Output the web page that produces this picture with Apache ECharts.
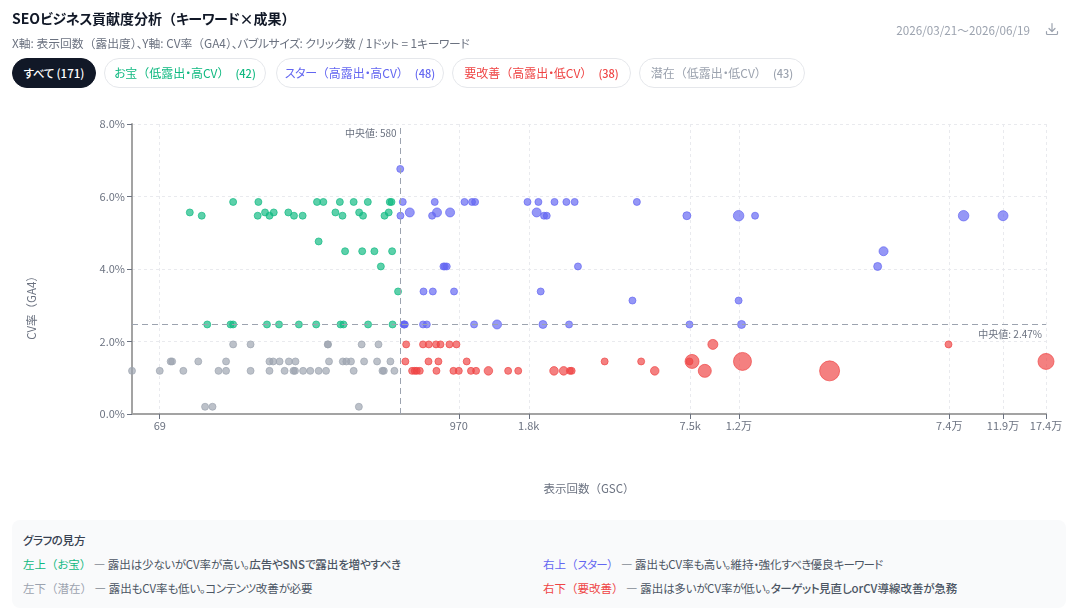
<!doctype html>
<html lang="ja"><head><meta charset="utf-8">
<script src="https://cdn.jsdelivr.net/npm/echarts@6/dist/echarts.min.js"></script>
<style>
html,body{margin:0;padding:0;background:#fff;width:1079px;height:613px;overflow:hidden;font-family:"Noto Sans CJK JP",sans-serif}
#chart{position:absolute;left:0;top:0;width:1079px;height:613px}
.abs{position:absolute;white-space:nowrap}
h1{margin:0;left:12px;top:8px;font-size:14px;line-height:20px;font-weight:700;color:#111827}
.sub{left:12px;top:35px;font-size:11.8px;line-height:15px;color:#6b7280}
.period{right:49px;top:22px;font-size:11.7px;line-height:15px;color:#9ca3af}
.dl{left:1045px;top:22px}
.chip{top:58px;height:30px;box-sizing:border-box;border:1px solid #e5e7eb;border-radius:15px;background:#fff;font-size:12px;line-height:28px;text-align:center}
.chip b{font-weight:500;margin-left:6px;font-size:11px}
.panel{left:12px;top:520px;width:1054px;height:88px;background:#f9fafb;border-radius:8px}
.panel .t{position:absolute;left:11px;top:13px;font-size:11.5px;line-height:15px;font-weight:500;color:#374151}
.panel .l{position:absolute;font-size:11.5px;line-height:15px;color:#4b5563;white-space:nowrap}
.panel .s{font-weight:500;color:#4b5563}
.kana{font-feature-settings:"palt";letter-spacing:-.4px}
.panel .tight .kana{letter-spacing:-.75px}
</style></head>
<body>
<div id="chart"></div>
<h1 class="abs jp">SEOビジネス貢献度分析（キーワード×成果）</h1>
<div class="abs sub jp">X軸: 表示回数（露出度）、Y軸: CV率（GA4）、バブルサイズ: クリック数 / 1ドット = 1キーワード</div>
<div class="abs period">2026/03/21〜2026/06/19</div>
<svg class="abs dl" width="14" height="14" viewBox="0 0 14 14" fill="none" stroke="#9ca3af" stroke-width="1.2" stroke-linecap="round" stroke-linejoin="round"><path d="M7 1.5v7.5M4 6.5l3 3 3-3M1.5 9.5v2a1 1 0 0 0 1 1h9a1 1 0 0 0 1-1v-2"/></svg>
<div class="abs chip jp" style="left:12px;width:84px;background:#111827;border-color:#111827;color:#fff;font-weight:500;font-size:11.5px">すべて (171)</div>
<div class="abs chip jp" style="left:104px;width:162px;color:#10b981">お宝（低露出・高CV）<b>(42)</b></div>
<div class="abs chip jp" style="left:276px;width:168px;color:#6366f1">スター（高露出・高CV）<b>(48)</b></div>
<div class="abs chip jp" style="left:452px;width:179px;color:#ef4444">要改善（高露出・低CV）<b>(38)</b></div>
<div class="abs chip jp" style="left:639px;width:166px;color:#9ca3af">潜在（低露出・低CV）<b>(43)</b></div>
<div class="abs panel">
  <div class="t jp">グラフの見方</div>
  <div class="l jp" style="left:11px;top:37px"><span style="color:#10b981">左上（お宝）</span> — 露出は少ないがCV率が高い。<span class="s">広告やSNSで露出を増やすべき</span></div>
  <div class="l jp tight" style="left:531px;top:37px"><span style="color:#6366f1">右上（スター）</span> — 露出もCV率も高い。維持・強化すべき優良キーワード</div>
  <div class="l jp" style="left:11px;top:61px"><span style="color:#9ca3af">左下（潜在）</span> — 露出もCV率も低い。コンテンツ改善が必要</div>
  <div class="l jp" style="left:531px;top:61px"><span style="color:#ef4444">右下（要改善）</span> — 露出は多いがCV率が低い。<span class="s">ターゲット見直しorCV導線改善が急務</span></div>
</div>
<script>
// Keywords per quadrant, grouped by CV rate (%). Each entry is impressions, or [impressions, clicks].
const hiddenGems = [
  [5.85, [132,165,277,293,339,383,434,527,535]],
  [5.56, [90,175,189,215,326,402,522]],
  [5.47, [100,164,182,226,244,347,416,503]],
  [4.76, [281]],
  [4.49, [355,413,460,538]],
  [4.07, [487]],
  [3.38, [567]],
  [2.47, [105,129,132,178,198,236,275,341,350,435,540]]
];
const stars = [
  [6.76, [578]],
  [5.85, [591,784,1020,1090,1120,1780,1960,2260,2510,2700,4680]],
  [5.56, [[629,39],[800,39],[898,39],[1930,39]]],
  [5.47, [579,766,2060,2110,[7280,25],[11500,66],13300,[84000,66],[119000,56]]],
  [4.49, [[41400,39]]],
  [4.07, [847,857,872,2780,[39300,25]]],
  [3.38, [710,771,930,2000]],
  [3.13, [4500,11500]],
  [2.47, [595,599,602,707,731,1110,[1360,39],[2040,25],2570,7450,[11800,25]]]
];
const toImprove = [
  [1.92, [609,707,744,793,825,893,950,[9160,56],73500]],
  [1.45, [605,742,810,1040,3520,4860,7450,[7620,156],[11900,306],[174000,225]]],
  [1.19, [642,657,669,687,796,925,970,1080,1130,[1260,32],1500,1640,[2250,32],[2450,32],2590,2630,[5480,32],[8530,127],[25700,400]]]
];
const potential = [
  [1.92, [132,154,305,305,411,477]],
  [1.45, [76,77,97,124,182,188,199,216,229,308,348,359,374,420,471,530]],
  [1.19, [54,69,85,116,124,154,182,208,225,228,245,261,281,300,383,494,500,549]],
  [0.2, [103,110,401]]
];
const xTicks = [69,970,1800,7500,11520,74000,119000,174000];
const xTickLabels = ['69','970','1.8k','7.5k','1.2万','7.4万','11.9万','17.4万'];
const medianImpressions = 580;
const medianCvr = 2.47;
const baseClicks = 9;

// Set kana and small punctuation proportionally; kanji and brackets stay full width.
const KANA = /[\u3041-\u30ff\u3001\u3002\u30fb]+/g;
document.querySelectorAll('.jp').forEach(el => {
  const walker = document.createTreeWalker(el, NodeFilter.SHOW_TEXT);
  const nodes = [];
  while (walker.nextNode()) nodes.push(walker.currentNode);
  nodes.forEach(n => {
    if (!KANA.test(n.nodeValue)) return;
    KANA.lastIndex = 0;
    const box = document.createElement('span');
    box.innerHTML = n.nodeValue.replace(KANA, m => '<span class="kana">' + m + '</span>');
    n.replaceWith(...box.childNodes);
  });
});

const FONT = '"Noto Sans CJK JP", sans-serif';
const expand = rows => rows.flatMap(([rate, list]) =>
  list.map(e => Array.isArray(e) ? [e[0], rate, e[1]] : [e, rate, baseClicks]));
const bubble = (name, rows, color, extra) => Object.assign({
  name, type: 'scatter', data: expand(rows),
  symbolSize: d => Math.max(7, 4 + 0.8 * Math.sqrt(d[2])),
  itemStyle: { color, opacity: 0.68, borderColor: color, borderWidth: 1 },
  emphasis: { disabled: true }, animation: false, silent: true
}, extra);

const chart = echarts.init(document.getElementById('chart'), null, { renderer: 'canvas' });
const medianLine = { color: '#9ca3af', type: [6, 4], width: 1 };
const medianLabel = { color: '#6b7280', fontSize: 10, fontFamily: FONT };
const gridLine = { color: '#e9eaee', type: [3, 3] };
chart.setOption({
  animation: false,
  textStyle: { fontFamily: FONT },
  grid: { left: 132, top: 124, width: 914, height: 290 },
  xAxis: {
    type: 'log', logBase: 10, min: 54, max: 174000,
    name: '表示回数（GSC）', nameLocation: 'middle', nameGap: 69,
    nameTextStyle: { color: '#6b7280', fontSize: 11.5, fontFamily: FONT },
    axisLine: { show: true, lineStyle: { color: '#a3a3a3', width: 2 } },
    axisTick: { show: true, length: 5, lineStyle: { color: '#6b7280' }, customValues: xTicks },
    axisLabel: { color: '#6b7280', fontSize: 11, margin: 6, customValues: xTicks,
      formatter: v => xTickLabels[xTicks.indexOf(v)] ?? '' , hideOverlap: false, showMinLabel: true, showMaxLabel: true },
    minorTick: { show: false }, minorSplitLine: { show: false },
    splitLine: { show: true, lineStyle: gridLine }
  },
  yAxis: {
    type: 'value', min: 0, max: 8, interval: 2,
    name: 'CV率（GA4）', nameLocation: 'middle', nameGap: 94.5, nameRotate: 90,
    nameTextStyle: { color: '#6b7280', fontSize: 11.5, fontFamily: FONT, padding: [0, 72, 0, 0] },
    axisLine: { show: true, lineStyle: { color: '#a3a3a3', width: 2 } },
    axisTick: { show: true, length: 5, lineStyle: { color: '#6b7280' } },
    axisLabel: { color: '#6b7280', fontSize: 11, margin: 7, formatter: v => v.toFixed(1) + '%' },
    splitLine: { show: true, lineStyle: gridLine }
  },
  series: [
    bubble('潜在', potential, '#9ca3af'),
    bubble('お宝', hiddenGems, '#10b981'),
    bubble('スター', stars, '#6366f1'),
    bubble('要改善', toImprove, '#ef4444', {
      markLine: {
        silent: true, symbol: 'none', animation: false,
        lineStyle: medianLine,
        data: [
          { xAxis: medianImpressions, label: Object.assign({ formatter: '中央値: ' + medianImpressions, position: 'insideEndTop', rotate: 0, distance: [4, 3], offset: [0, 17] }, medianLabel) },
          { yAxis: medianCvr, label: Object.assign({ formatter: '中央値: ' + medianCvr + '%', position: 'insideEndBottom', distance: [4, 3], offset: [0, 2] }, medianLabel) }
        ]
      }
    })
  ]
});
</script>
</body></html>
